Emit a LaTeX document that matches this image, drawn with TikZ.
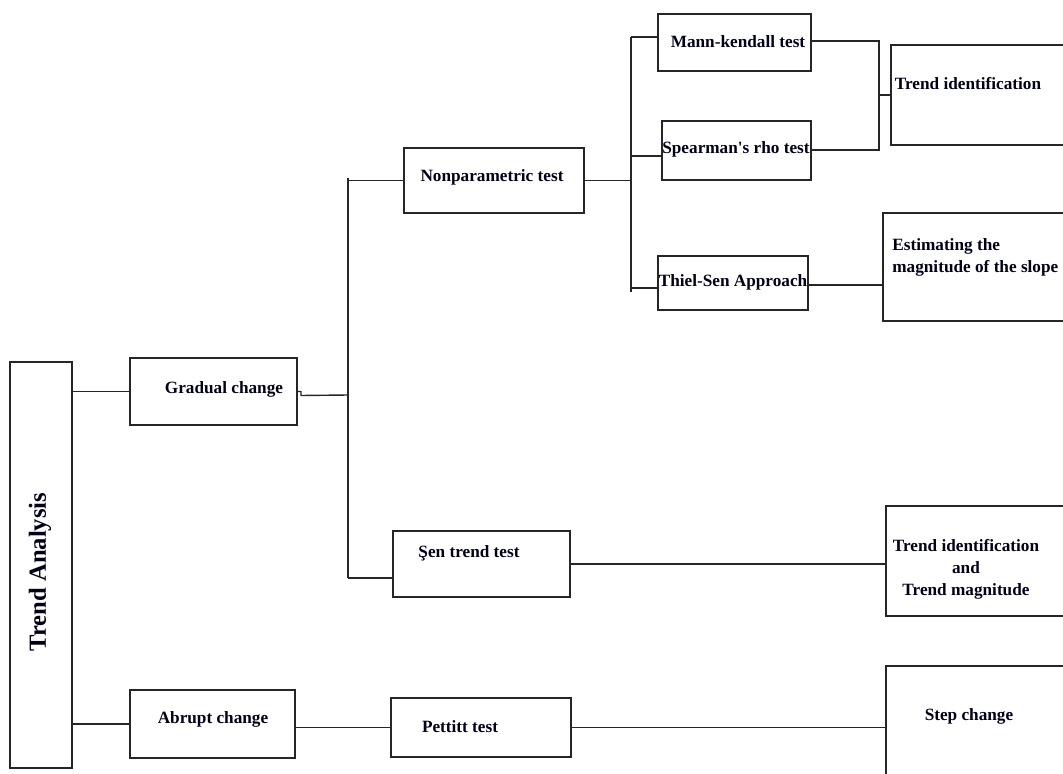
\documentclass[tikz,border=0pt]{standalone}
\usepackage{fontspec}
\setmainfont{Liberation Serif}
\usepackage{tikz}
\usetikzlibrary{positioning, fit}

\tikzset{
  box/.style={draw=black!85, line width=0.8pt, inner sep=0pt, outer sep=0pt, rectangle},
  txt/.style={font=\fontsize{9.8}{12.5}\selectfont\bfseries, inner sep=0pt, text=black!90!blue},
  conn/.style={draw=black!85, line width=0.8pt}
}

\begin{document}
\begin{tikzpicture}[x=0.02cm, y=-0.02cm]
\useasboundingbox (0,0) rectangle (1063,774);
% boxes
\node[box, fit={(10,362) (72,768)}] (ta) {};
\node[box, fit={(130,358) (297,425)}] (grad) {};
\node[box, fit={(130,690) (295,758)}] (abr) {};
\node[box, fit={(404,148) (584,213)}] (np) {};
\node[box, fit={(393,531) (570,597)}] (sen) {};
\node[box, fit={(391,698) (571,757)}] (pet) {};
\node[box, fit={(658,14) (811,71)}] (mk) {};
\node[box, fit={(662,121) (811,180)}] (sp) {};
\node[box, fit={(658,256) (808,310)}] (th) {};
\node[box, fit={(891,45) (1075,145)}] (ti) {};
\node[box, fit={(883,213) (1075,321)}] (est) {};
\node[box, fit={(886,506) (1075,616)}] (tim) {};
\node[box, fit={(886,666) (1075,790)}] (stp) {};
% texts
\node[txt, font=\fontsize{14}{16}\selectfont\bfseries, rotate=90] (tatxt) at (40,572) {Trend Analysis};
\node[txt] (gradtxt) at (224,389) {Gradual change};
\node[txt] (abrtxt) at (213,719) {Abrupt change};
\node[txt] (nptxt) at (492,177) {Nonparametric test};
\node[txt] (sentxt) at (469,553) {Şen trend test};
\node[txt] (pettxt) at (460,727) {Pettitt test};
\node[txt] (mktxt) at (738,42) {Mann-kendall test};
\node[txt] (sptxt) at (736,149) {Spearman\textquotesingle s rho test};
\node[txt] (thtxt) at (733,282) {Thiel-Sen Approach};
\node[txt] (titxt) at (968,84) {Trend identification};
\node[txt, align=left, anchor=west] (esttxt) at (892,257) {Estimating the\\magnitude of the slope};
\node[txt, align=center] (timtxt) at (966,569) {Trend identification\\and\\Trend magnitude};
\node[txt] (stptxt) at (969,716) {Step change};
% spines
\coordinate (s1top) at (348,178);
\coordinate (s1bot) at (348,578);
\coordinate (s2top) at (631,37);
\coordinate (s2bot) at (631,292);
\coordinate (r1top) at (879,41);
\coordinate (r1bot) at (879,150);
% connectors
\draw[conn] (ta.east |- grad.west) -- (grad.west);
\draw[conn] (ta.east |- abr.west) -- (abr.west);
\draw[conn] (s1top) -- (s1bot);
\draw[conn] (grad.east) -- ++(4,0) -- ++(0,4) -- (s1top |- 0,395);
\draw[conn] (s1top |- np.west) -- (np.west);
\draw[conn] (s1bot) -- (sen.west |- s1bot);
\draw[conn] (abr.east |- pet.west) -- (pet.west);
\draw[conn] (pet.east) -- (pet.east -| stp.west);
\draw[conn] (sen.east) -- (sen.east -| tim.west);
\draw[conn] (s2top) -- (s2bot);
\draw[conn] (np.east) -- (np.east -| s2top);
\draw[conn] (s2top) -- (mk.west |- s2top);
\draw[conn] (s2top |- 0,156) -- (sp.west |- 0,156);
\draw[conn] (s2bot |- 0,288) -- (th.west |- 0,288);
\draw[conn] (mk.east |- r1top) -- (r1top) -- (r1bot) -- (sp.east |- r1bot);
\draw[conn] (r1top |- ti.west) -- (ti.west);
\draw[conn] (th.east |- 0,285) -- (est.west |- 0,285);
\end{tikzpicture}
\end{document}
